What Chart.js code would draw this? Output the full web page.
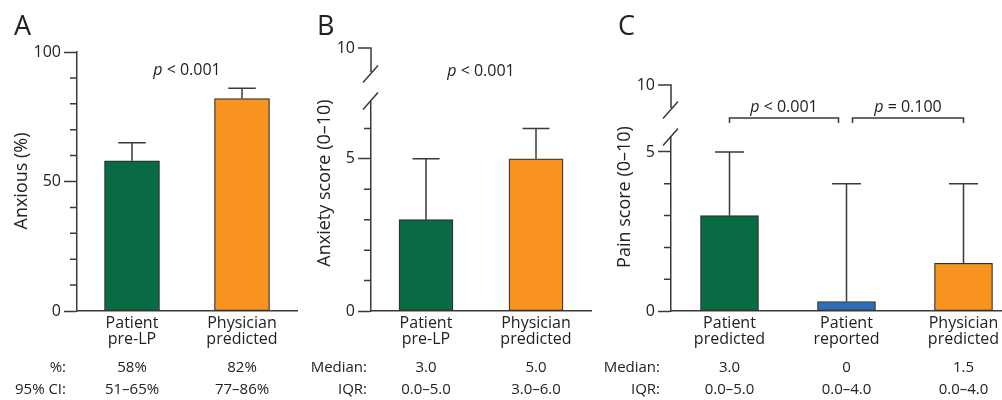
<!DOCTYPE html>
<html>
<head>
<meta charset="utf-8">
<script src="https://cdn.jsdelivr.net/npm/chart.js@4"></script>
<style>
  html, body { margin: 0; padding: 0; background: #fff; width: 1002px; height: 400px; overflow: hidden; position: relative; }
  canvas { position: absolute; top: 0; }
</style>
</head>
<body>
<canvas id="chartA" width="300" height="400" style="left:0px"></canvas>
<canvas id="chartB" width="300" height="400" style="left:300px"></canvas>
<canvas id="chartC" width="430" height="400" style="left:600px"></canvas>
<script>
// ---- data ----
// A: anxious (%)
const catsA = [['Patient', 'pre-LP'], ['Physician', 'predicted']];
const anxiousPct = [58, 82];
const anxiousCiHigh = [65, 86];
const pctText = ['58%', '82%'];
const ciText = ['51–65%', '77–86%'];
const majorA = [0, 50, 100];
const minorA = [10, 20, 30, 40, 60, 70, 80, 90];

// B: anxiety score (0-10)
const catsB = [['Patient', 'pre-LP'], ['Physician', 'predicted']];
const anxietyMedian = [3, 5];
const anxietyIqrHigh = [5, 6];
const anxietyMedianText = ['3.0', '5.0'];
const anxietyIqrText = ['0.0–5.0', '3.0–6.0'];
const majorB = [0, 5];
const minorB = [1, 2, 3, 4, 6];

// C: pain score (0-10)
const catsC = [['Patient', 'predicted'], ['Patient', 'reported'], ['Physician', 'predicted']];
const painBar = [3, 0.3, 1.5];
const painIqrHigh = [5, 4, 4];
const painMedianText = ['3.0', '0', '1.5'];
const painIqrText = ['0.0–5.0', '0.0–4.0', '0.0–4.0'];
const majorC = [0, 5];
const minorC = [1, 2, 3, 4];

const pA = '< 0.001';
const pB = '< 0.001';
const pC = ['< 0.001', '= 0.100'];

const GREEN = '#086b43';
const ORANGE = '#f7931e';
const BLUE = '#2f6db5';
const INK = '#222';
const AXIS = '#3a3a3a';
const FONT = "'Open Sans', sans-serif";

function drawP(ctx, cx, cy, rest) {
  ctx.font = 'italic 16px ' + FONT;
  const wp = ctx.measureText('p').width;
  ctx.font = '16px ' + FONT;
  const wr = ctx.measureText(' ' + rest).width;
  const x = cx - (wp + wr) / 2;
  ctx.fillStyle = INK;
  ctx.textAlign = 'left';
  ctx.textBaseline = 'middle';
  ctx.font = 'italic 16px ' + FONT;
  ctx.fillText('p', x, cy);
  ctx.font = '16px ' + FONT;
  ctx.fillText(' ' + rest, x + wp, cy);
}

// error bars, minor ticks, axis break, p values, table rows, titles
const decoPlugin = {
  id: 'deco',
  afterDatasetsDraw(chart, args, o) {
    const ctx = chart.ctx;
    const area = chart.chartArea;
    const xs = chart.scales.x;
    const ys = chart.scales.y;
    ctx.save();
    ctx.strokeStyle = AXIS;
    ctx.lineWidth = 1.5;

    const meta = chart.getDatasetMeta(0);
    meta.data.forEach((bar, i) => {
      const yTop = ys.getPixelForValue(o.upper[i]);
      const half = bar.width / 4;
      ctx.beginPath();
      ctx.moveTo(bar.x, bar.y);
      ctx.lineTo(bar.x, yTop);
      ctx.moveTo(bar.x - half, yTop);
      ctx.lineTo(bar.x + half, yTop);
      ctx.stroke();
    });

    ctx.beginPath();
    o.minor.forEach(v => {
      const y = ys.getPixelForValue(v);
      ctx.moveTo(area.left - 7, y);
      ctx.lineTo(area.left, y);
    });
    ctx.stroke();

    if (o.breakLabel) {
      const ax = area.left, t = area.top;
      ctx.beginPath();
      ctx.moveTo(ax - 8, t + 8.5); ctx.lineTo(ax + 7, t - 8.5);
      ctx.moveTo(ax - 8, t - 27 + 8.5); ctx.lineTo(ax + 7, t - 27 - 8.5);
      ctx.moveTo(ax, t - 29); ctx.lineTo(ax, t - o.breakGap); ctx.lineTo(ax - 13, t - o.breakGap);
      ctx.stroke();
      ctx.fillStyle = INK;
      ctx.font = '16px ' + FONT;
      ctx.textAlign = 'right';
      ctx.textBaseline = 'middle';
      ctx.fillText(o.breakLabel, ax - 16, t - o.breakGap);
    }

    o.pvals.forEach(p => {
      const xa = xs.getPixelForValue(p.a) + p.padA;
      const xb = xs.getPixelForValue(p.b) + p.padB;
      if (p.bracket !== undefined) {
        const yb = area.top + p.bracket;
        ctx.beginPath();
        ctx.moveTo(xa, yb + 5); ctx.lineTo(xa, yb); ctx.lineTo(xb, yb); ctx.lineTo(xb, yb + 5);
        ctx.stroke();
      }
      drawP(ctx, (xa + xb) / 2, area.top + p.dy, p.text);
    });

    ctx.fillStyle = INK;
    ctx.font = '15px ' + FONT;
    ctx.textBaseline = 'middle';
    o.rows.forEach((row, r) => {
      const y = area.bottom + (r === 0 ? 57 : 79);
      ctx.textAlign = 'right';
      ctx.fillText(row.label, area.left + o.rowLabelDx, y);
      ctx.textAlign = 'center';
      row.values.forEach((v, i) => ctx.fillText(v, xs.getPixelForValue(i), y));
    });

    ctx.save();
    ctx.translate(o.titleX, o.titleY);
    ctx.rotate(-Math.PI / 2);
    ctx.font = '18px ' + FONT;
    ctx.textAlign = 'center';
    ctx.textBaseline = 'middle';
    ctx.fillText(o.title, 0, 0);
    ctx.restore();

    ctx.font = '27px ' + FONT;
    ctx.textAlign = 'left';
    ctx.textBaseline = 'alphabetic';
    ctx.fillText(o.letter, o.letterX, 35);
    ctx.restore();
  }
};

function makePanel(id, cfg) {
  return new Chart(document.getElementById(id), {
    type: 'bar',
    data: {
      labels: cfg.labels,
      datasets: [{
        data: cfg.values,
        backgroundColor: cfg.colors,
        borderColor: '#2e2e2e',
        borderWidth: 1.2,
        borderSkipped: false,
        barThickness: cfg.barW
      }]
    },
    options: {
      responsive: false,
      animation: false,
      layout: { padding: { top: cfg.top, right: cfg.right, left: 0, bottom: 0 } },
      plugins: { legend: { display: false }, tooltip: { enabled: false }, deco: cfg.deco },
      scales: {
        x: {
          grid: { display: false, drawTicks: false },
          border: { display: true, color: AXIS, width: 1.5 },
          ticks: { color: INK, font: { family: FONT, size: 16, lineHeight: 1 }, padding: 4, maxRotation: 0, autoSkip: false },
          afterFit: s => { s.height = 89; }
        },
        y: {
          min: 0,
          max: cfg.max,
          border: { display: true, color: AXIS, width: 1.5 },
          grid: {
            drawOnChartArea: false,
            tickLength: 13,
            tickWidth: 1.5,
            tickColor: c => (c.tick && cfg.major.includes(c.tick.value)) ? AXIS : 'rgba(0,0,0,0)'
          },
          ticks: {
            stepSize: cfg.step,
            includeBounds: false,
            autoSkip: false,
            padding: 3,
            color: INK,
            font: { family: FONT, size: 16 },
            callback: v => cfg.major.includes(v) ? String(v) : ''
          },
          afterFit: s => { s.width = cfg.axisX; }
        }
      }
    },
    plugins: [decoPlugin]
  });
}

makePanel('chartA', {
  labels: catsA, values: anxiousPct, colors: [GREEN, ORANGE], barW: 55,
  top: 52, right: 3, axisX: 77, max: 100, step: 10, major: majorA,
  deco: {
    upper: anxiousCiHigh, minor: minorA,
    pvals: [{ a: 0, b: 1, padA: 0, padB: 0, dy: 18, text: pA }],
    rows: [{ label: '%:', values: pctText }, { label: '95% CI:', values: ciText }],
    rowLabelDx: -11,
    title: 'Anxious (%)', titleX: 22, titleY: 181,
    letter: 'A', letterX: 14
  }
});

makePanel('chartB', {
  labels: catsB, values: anxietyMedian, colors: [GREEN, ORANGE], barW: 54,
  top: 101, right: 9, axisX: 71, max: 6.9, step: 1, major: majorB,
  deco: {
    upper: anxietyIqrHigh, minor: minorB,
    breakLabel: '10', breakGap: 53,
    pvals: [{ a: 0, b: 1, padA: 0, padB: 0, dy: -30, text: pB }],
    rows: [{ label: 'Median:', values: anxietyMedianText }, { label: 'IQR:', values: anxietyIqrText }],
    rowLabelDx: -4,
    title: 'Anxiety score (0–10)', titleX: 25, titleY: 183,
    letter: 'B', letterX: 17
  }
});

makePanel('chartC', {
  labels: catsC, values: painBar, colors: [GREEN, BLUE, ORANGE], barW: 58,
  top: 137, right: 8, axisX: 71, max: 5.47, step: 1, major: majorC,
  deco: {
    upper: painIqrHigh, minor: minorC,
    breakLabel: '10', breakGap: 52,
    pvals: [
      { a: 0, b: 1, padA: 0, padB: -8, dy: -30, bracket: -19, text: pC[0] },
      { a: 1, b: 2, padA: 6, padB: 0, dy: -30, bracket: -19, text: pC[1] }
    ],
    rows: [{ label: 'Median:', values: painMedianText }, { label: 'IQR:', values: painIqrText }],
    rowLabelDx: -11,
    title: 'Pain score (0–10)', titleX: 25, titleY: 197,
    letter: 'C', letterX: 18
  }
});
</script>
</body>
</html>
